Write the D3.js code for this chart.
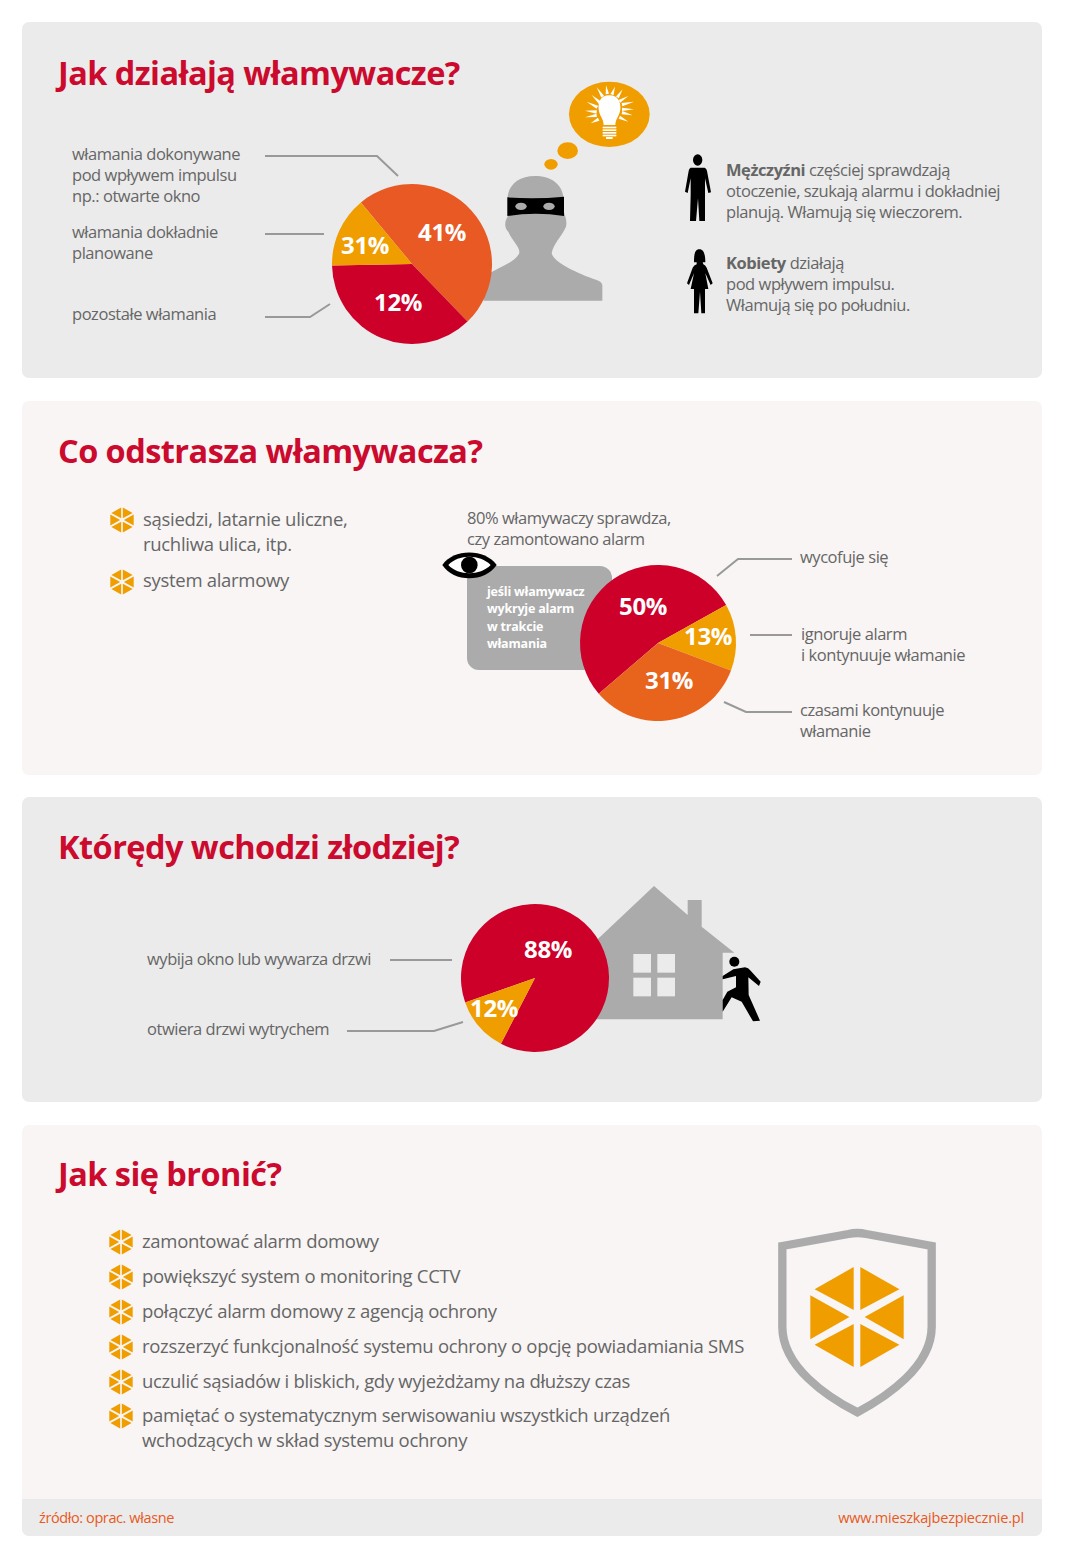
<!DOCTYPE html>
<html>
<head>
<meta charset="utf-8">
<title>Jak działają włamywacze</title>
<script src="https://cdn.jsdelivr.net/npm/d3@7"></script>
<style>
  html, body { margin: 0; padding: 0; background: #fff; }
  svg { display: block; font-family: "Open Sans", sans-serif; }
</style>
</head>
<body>
<svg id="chart" width="1065" height="1559"></svg>
<script>
// pie values, as printed on the picture
const methodValues = [41, 31, 12];
const reactionValues = [50, 13, 31];
const entryValues = [88, 12];

const titles = ["Jak działają włamywacze?", "Co odstrasza włamywacza?", "Którędy wchodzi złodziej?", "Jak się bronić?"];
const methodLabels = [["włamania dokonywane", "pod wpływem impulsu", "np.: otwarte okno"], ["włamania dokładnie", "planowane"], ["pozostałe włamania"]];
const menText = ["częściej sprawdzają", "otoczenie, szukają alarmu i dokładniej", "planują. Włamują się wieczorem."];
const womenText = ["działają", "pod wpływem impulsu.", "Włamują się po południu."];
const deterList = [["sąsiedzi, latarnie uliczne,", "ruchliwa ulica, itp."], ["system alarmowy"]];
const checkText = ["80% włamywaczy sprawdza,", "czy zamontowano alarm"];
const boxText = ["jeśli włamywacz", "wykryje alarm", "w trakcie", "włamania"];
const reactionLabels = [["wycofuje się"], ["ignoruje alarm", "i kontynuuje włamanie"], ["czasami kontynuuje", "włamanie"]];
const entryLabels = ["wybija okno lub wywarza drzwi", "otwiera drzwi wytrychem"];
const defendList = [
  ["zamontować alarm domowy"],
  ["powiększyć system o monitoring CCTV"],
  ["połączyć alarm domowy z agencją ochrony"],
  ["rozszerzyć funkcjonalność systemu ochrony o opcję powiadamiania SMS"],
  ["uczulić sąsiadów i bliskich, gdy wyjeżdżamy na dłuższy czas"],
  ["pamiętać o systematycznym serwisowaniu wszystkich urządzeń", "wchodzących w skład systemu ochrony"]
];
const sourceText = "źródło: oprac. własne";
const siteText = "www.mieszkajbezpiecznie.pl";

const RED = "#cd0029", ORANGE = "#e85923", ORANGE2 = "#e8641c", YELLOW = "#f09d00";
const GREY = "#ababab", LINE = "#999", TEXT = "#666", DARK = "#ebebeb", LIGHT = "#f8f5f4";

const svg = d3.select("#chart");

function panel(y, h, fill) {
  svg.append("rect").attr("x", 22).attr("y", y).attr("width", 1020).attr("height", h)
    .attr("rx", 7).attr("fill", fill);
}

function title(text, y) {
  svg.append("text").attr("x", 58).attr("y", y).text(text)
    .attr("font-size", 32.5).attr("font-weight", 700).attr("letter-spacing", -0.55).attr("fill", "#cb0a2e");
}

// several lines of body text, one baseline per line
function lines(list, x, y, step, size, spacing) {
  list.forEach((line, i) => {
    svg.append("text").attr("x", x).attr("y", y + i * step).text(line)
      .attr("font-size", size).attr("letter-spacing", spacing).attr("fill", TEXT);
  });
}

function leader(points) {
  svg.append("path").attr("d", d3.line()(points)).attr("fill", "none")
    .attr("stroke", LINE).attr("stroke-width", 2);
}

function drawPie(cx, cy, r, startDeg, values, colors, labelAt, size) {
  const pie = d3.pie().sort(null).startAngle(startDeg * Math.PI / 180).endAngle((startDeg + 360) * Math.PI / 180);
  const arc = d3.arc().innerRadius(0).outerRadius(r);
  const g = svg.append("g").attr("transform", `translate(${cx},${cy})`);
  g.selectAll("path").data(pie(values)).enter().append("path")
    .attr("d", arc).attr("fill", (d, i) => colors[i]);
  values.forEach((v, i) => {
    svg.append("text").attr("x", labelAt[i][0]).attr("y", labelAt[i][1]).text(v + "%")
      .attr("text-anchor", "middle").attr("font-size", size).attr("font-weight", 700)
      .attr("letter-spacing", -0.4).attr("fill", "#fff");
  });
}

// hexagon of six triangles, used for the bullets and on the shield
function hexIcon(cx, cy, r) {
  const s = r / 151;
  const g = svg.append("g").attr("transform", `translate(${cx},${cy}) scale(${s})`).attr("fill", YELLOW);
  [1, -1].forEach(mx => {
    [1, -1].forEach(my => {
      g.append("path").attr("d", `M${mx * 10},${my * 151}L${mx * 10},${my * 21}L${mx * 128},${my * 84}Z`);
    });
    g.append("path").attr("d", `M${mx * 141},-66L${mx * 141},67L${mx * 23},0Z`);
  });
}

// shapes traced on a 3x zoom of the picture, hence the scale
function traced(ox, oy) {
  return svg.append("g").attr("transform", `translate(${ox},${oy}) scale(${1 / 3})`);
}

// panels
panel(22, 356, DARK);
panel(401, 374, LIGHT);
panel(797, 305, DARK);
panel(1125, 411, LIGHT);
svg.append("path").attr("d", "M22,1499H1042V1529a7,7 0 0 1 -7,7H29a7,7 0 0 1 -7,-7Z").attr("fill", DARK);

[85, 463, 859, 1186].forEach((y, i) => title(titles[i], y));

// --- section 1
const head = traced(320, 70);
head.append("path").attr("fill", GREY).attr("d",
  "M490,692L847,692L847,645Q845,635 830,630C770,610 700,575 695,550C700,520 725,500 738,470C742,450 735,440 730,420L730,380C725,340 690,318 645,318C600,318 568,340 563,380L563,440C553,455 553,475 565,485C575,510 600,530 598,548C590,575 540,590 500,615Z");
head.append("path").attr("fill", "#000").attr("d", "M562,382Q647,388 732,380L732,438Q647,425 562,438Z");
[603, 687].forEach(x => head.append("ellipse").attr("cx", x).attr("cy", 409).attr("rx", 17).attr("ry", 11).attr("fill", GREY));
[[868, 133, 121, 98], [743, 242, 31, 25], [693, 283, 20, 16]].forEach(e => {
  head.append("ellipse").attr("cx", e[0]).attr("cy", e[1]).attr("rx", e[2]).attr("ry", e[3]).attr("fill", YELLOW);
});
// light bulb
head.append("path").attr("fill", "#fff").attr("d",
  "M868,76C840,76 834,100 836,118C838,138 850,145 851,165L886,165C887,145 899,138 901,118C903,100 896,76 868,76Z");
[170, 178, 186, 194].forEach(y => head.append("rect").attr("x", 848).attr("y", y).attr("width", 41).attr("height", 5).attr("fill", "#fff"));
head.append("rect").attr("x", 858).attr("y", 201).attr("width", 20).attr("height", 6).attr("fill", "#fff");
[[830, 52, 848, 80], [858, 46, 862, 72], [885, 50, 876, 74], [908, 58, 892, 82], [925, 78, 898, 94], [942, 95, 906, 104], [942, 118, 906, 118], [938, 136, 906, 128], [925, 155, 898, 142],
 [800, 95, 832, 112], [795, 122, 830, 126], [795, 142, 830, 136], [812, 160, 836, 148], [815, 75, 840, 98]].forEach(r => {
  const a = Math.atan2(r[3] - r[1], r[2] - r[0]) + Math.PI / 2, w = 5;
  head.append("path").attr("fill", "#fff").attr("d",
    `M${r[0]},${r[1]}L${r[2] + w * Math.cos(a)},${r[3] + w * Math.sin(a)}L${r[2] - w * Math.cos(a)},${r[3] - w * Math.sin(a)}Z`);
});

drawPie(412, 264, 80, -39.7, methodValues, [ORANGE, RED, YELLOW], [[442, 241], [365, 254], [398, 311]], 24);

lines(methodLabels[0], 72, 160, 21, 16.5, -0.45);
lines(methodLabels[1], 72, 238, 21, 16.5, -0.45);
lines(methodLabels[2], 72, 320, 21, 16.5, -0.45);
leader([[265, 156], [377, 156], [398, 176]]);
leader([[265, 234], [324, 234]]);
leader([[265, 317], [310, 317], [330, 304]]);

const people = traced(670, 145);
people.append("ellipse").attr("cx", 83).attr("cy", 45).attr("rx", 14).attr("ry", 17);
people.append("path").attr("d",
  "M62,68L104,68Q110,70 111,78L123,142L115,144L105,100L105,150L105,228L88,228L84,160L78,228L60,228L62,150L62,100L53,144L45,140L56,78Q57,70 62,68Z");
people.append("path").attr("d",
  "M72,352C72,330 74,313 88,313C102,313 106,330 106,352L98,352L100,358Q106,360 110,368L128,415L122,420L106,385L115,432L105,432L105,505L94,505L90,440L85,505L72,505L72,432L62,432L72,385L57,420L51,415L68,368Q72,360 80,358L80,352Z");

svg.append("text").attr("x", 726).attr("y", 176).attr("font-size", 16.5).attr("letter-spacing", -0.45).attr("fill", TEXT)
  .call(t => t.append("tspan").attr("font-weight", 700).text("Mężczyźni "))
  .call(t => t.append("tspan").text(menText[0]));
lines(menText.slice(1), 726, 197, 21, 16.5, -0.45);
svg.append("text").attr("x", 726).attr("y", 269).attr("font-size", 16.5).attr("letter-spacing", -0.45).attr("fill", TEXT)
  .call(t => t.append("tspan").attr("font-weight", 700).text("Kobiety "))
  .call(t => t.append("tspan").text(womenText[0]));
lines(womenText.slice(1), 726, 290, 21, 16.5, -0.45);

// --- section 2
hexIcon(122, 520, 12.5);
hexIcon(122, 582, 12.5);
lines(deterList[0], 143, 526, 25, 18.5, -0.3);
lines(deterList[1], 143, 587, 25, 18.5, -0.3);
lines(checkText, 467, 524, 21, 16.5, -0.45);

svg.append("rect").attr("x", 467).attr("y", 566).attr("width", 145).attr("height", 104).attr("rx", 12).attr("fill", GREY);
boxText.forEach((line, i) => {
  svg.append("text").attr("x", 487).attr("y", 596 + i * 17.3).text(line)
    .attr("font-size", 12.5).attr("font-weight", 700).attr("letter-spacing", -0.2).attr("fill", "#fff");
});
const eye = traced(430, 540);
eye.append("path").attr("d", "M37,75C70,25 165,25 200,75C165,128 70,128 37,75Z").attr("fill", "#000");
eye.append("path").attr("d", "M55,75C85,42 150,42 182,75C150,108 85,108 55,75Z").attr("fill", "#fff");
eye.append("circle").attr("cx", 118).attr("cy", 75).attr("r", 25).attr("fill", "#000");

drawPie(658, 643, 78, 229.4, reactionValues, [RED, YELLOW, ORANGE2], [[643, 615], [708, 645], [669, 689]], 24);

leader([[717, 576], [738, 559], [792, 559]]);
leader([[750, 635], [792, 635]]);
leader([[724, 702], [746, 712], [792, 712]]);
lines(reactionLabels[0], 800, 563, 21, 16.5, -0.45);
lines(reactionLabels[1], 801, 640, 21, 16.5, -0.45);
lines(reactionLabels[2], 800, 716, 21, 16.5, -0.45);

// --- section 3
const house = traced(450, 880);
house.append("path").attr("fill", GREY).attr("d",
  "M612,18L713,105L713,60L755,60L755,140L853,218L818,218L818,418L430,418L430,190Z");
[[550, 222], [622, 222], [550, 293], [622, 293]].forEach(w => {
  house.append("rect").attr("x", w[0]).attr("y", w[1]).attr("width", 53).attr("height", 56).attr("fill", DARK);
});
house.append("circle").attr("cx", 853).attr("cy", 245).attr("r", 15);
house.append("path").attr("d",
  "M818,288L850,268L885,262Q895,263 902,272L932,305L927,318L895,292L896,345L930,422L909,424L875,365L845,352L818,395L818,360L832,335L858,322L858,288L818,298Z");

drawPie(535, 978, 74, 250.6, entryValues, [RED, YELLOW], [[548, 958], [494, 1017]], 24);

lines([entryLabels[0]], 147, 965, 21, 16.5, -0.45);
lines([entryLabels[1]], 147, 1035, 21, 16.5, -0.45);
leader([[390, 960], [452, 960]]);
leader([[347, 1031], [434, 1031], [463, 1022]]);

// --- section 4
[1242, 1277, 1312, 1347, 1382, 1416].forEach((y, i) => {
  hexIcon(121, y, 12.5);
  lines(defendList[i], 142, y + 6, 24.5, 18.5, -0.3);
});

traced(770, 1220).append("path").attr("fill", "none").attr("stroke", GREY).attr("stroke-width", 25)
  .attr("d", "M37,78L235,42Q262,36 289,42L485,78L485,320C485,440 350,530 262,577C170,530 37,440 37,320Z");
hexIcon(857, 1317, 50);

svg.append("text").attr("x", 39).attr("y", 1523).text(sourceText)
  .attr("font-size", 14.5).attr("letter-spacing", -0.4).attr("fill", ORANGE);
svg.append("text").attr("x", 1024).attr("y", 1523).text(siteText).attr("text-anchor", "end")
  .attr("font-size", 14.5).attr("letter-spacing", -0.2).attr("fill", ORANGE);
</script>
</body>
</html>
